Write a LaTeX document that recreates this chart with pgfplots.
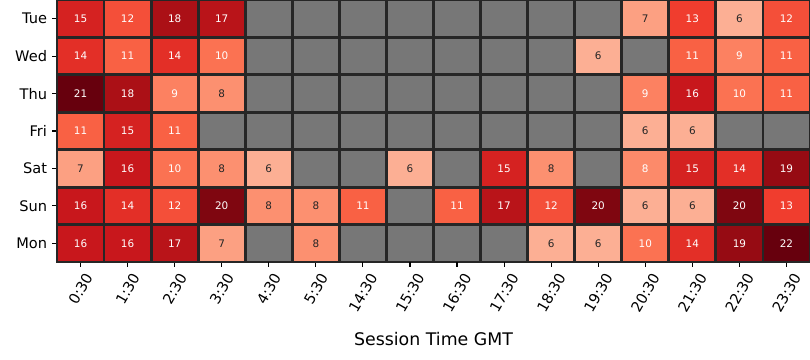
\documentclass[border=0pt]{standalone}
\usepackage{pgfplots}
\pgfplotsset{compat=1.18}
\usepackage{fontspec}
\setmainfont{DejaVu Sans}
\definecolor{misscol}{RGB}{119,119,119}
\definecolor{gridcol}{RGB}{38,38,38}
\definecolor{darktxt}{RGB}{38,38,38}
\pgfdeclareplotmark{cell}{\pgfpathrectanglecorners{\pgfpoint{-16.943pt}{-13.474pt}}{\pgfpoint{16.943pt}{13.474pt}}\pgfusepathqfillstroke}
\pgfplotstableread{
x y v
0 0 15
1 0 12
2 0 18
3 0 17
12 0 7
13 0 13
14 0 6
15 0 12
0 1 14
1 1 11
2 1 14
3 1 10
11 1 6
13 1 11
14 1 9
15 1 11
0 2 21
1 2 18
2 2 9
3 2 8
12 2 9
13 2 16
14 2 10
15 2 11
0 3 11
1 3 15
2 3 11
12 3 6
13 3 6
0 4 7
1 4 16
2 4 10
3 4 8
4 4 6
7 4 6
9 4 15
10 4 8
12 4 8.4
13 4 15
14 4 14
15 4 19
0 5 16
1 5 14
2 5 12
3 5 20
4 5 8
5 5 8
6 5 11
8 5 11
9 5 17
10 5 12
11 5 20
12 5 6
13 5 6
14 5 20
15 5 13
0 6 16
1 6 16
2 6 17
3 6 7
5 6 8
10 6 6
11 6 6
12 6 10
13 6 14
14 6 19
15 6 22
}\cells
\pgfplotstableread{
x y t
0 0 15
1 0 12
2 0 18
3 0 17
13 0 13
15 0 12
0 1 14
1 1 11
2 1 14
3 1 10
13 1 11
14 1 9
15 1 11
0 2 21
1 2 18
2 2 9
12 2 9
13 2 16
14 2 10
15 2 11
0 3 11
1 3 15
2 3 11
1 4 16
2 4 10
9 4 15
12 4 8
13 4 15
14 4 14
15 4 19
0 5 16
1 5 14
2 5 12
3 5 20
6 5 11
8 5 11
9 5 17
10 5 12
11 5 20
14 5 20
15 5 13
0 6 16
1 6 16
2 6 17
12 6 10
13 6 14
14 6 19
15 6 22
}\whitetxt
\pgfplotstableread{
x y t
12 0 7
14 0 6
11 1 6
3 2 8
12 3 6
13 3 6
0 4 7
3 4 8
4 4 6
7 4 6
10 4 8
4 5 8
5 5 8
12 5 6
13 5 6
3 6 7
5 6 8
10 6 6
11 6 6
}\darktxt
\begin{document}
\begin{tikzpicture}
\begin{axis}[
  at={(41.04pt,70.56pt)}, anchor=south west,
  scale only axis, width=542.16pt, height=188.64pt,
  xmin=-0.5, xmax=15.5, ymin=-0.5, ymax=6.5,
  y dir=reverse,
  axis background/.style={fill=misscol},
  axis on top,
  axis line style={draw=none},
  xtick={0,...,15},
  ytick={0,...,6},
  minor xtick={-0.5,0.5,...,15.5},
  minor ytick={-0.5,0.5,...,6.5},
  minor tick length=0pt,
  major tick length=3.5pt,
  tick align=outside,
  xtick pos=bottom, ytick pos=left,
  tick style={black, line width=0.8pt},
  grid=minor,
  minor grid style={draw=gridcol, line width=2pt},
  xticklabels={\rotatebox{60}{0:30},\rotatebox{60}{1:30},\rotatebox{60}{2:30},\rotatebox{60}{3:30},\rotatebox{60}{4:30},\rotatebox{60}{5:30},\rotatebox{60}{14:30},\rotatebox{60}{15:30},\rotatebox{60}{16:30},\rotatebox{60}{17:30},\rotatebox{60}{18:30},\rotatebox{60}{19:30},\rotatebox{60}{20:30},\rotatebox{60}{21:30},\rotatebox{60}{22:30},\rotatebox{60}{23:30}},
  yticklabels={Tue,Wed,Thu,Fri,Sat,Sun,Mon},
  ticklabel style={font=\fontsize{10.5}{12}\selectfont, text=black},
  xticklabel style={anchor=north, inner sep=0pt, yshift=-3.5pt},
  yticklabel style={anchor=east, inner sep=0pt, xshift=-3.5pt},
  xlabel={Session Time GMT},
  xlabel style={font=\fontsize{12.5}{14}\selectfont, black, inner sep=0pt, yshift=-13pt},
  colormap={reds}{rgb255=(255,245,240) rgb255=(254,224,210) rgb255=(252,187,161) rgb255=(252,146,114) rgb255=(251,106,74) rgb255=(239,59,44) rgb255=(203,24,29) rgb255=(165,15,21) rgb255=(103,0,13)},
  point meta min=0, point meta max=21,
]
\addplot[scatter, only marks, mark=cell, scatter/use mapped color={draw=gridcol, fill=mapped color, line width=2pt}, mark options={line width=2pt}, point meta=explicit]
  table[x=x, y=y, meta=v] {\cells};
\addplot[only marks, mark=none, nodes near coords, point meta=explicit symbolic,
  nodes near coords style={anchor=center, font=\fontsize{7.5}{9}\selectfont, text=white, inner sep=0pt}]
  table[x=x, y=y, meta=t] {\whitetxt};
\addplot[only marks, mark=none, nodes near coords, point meta=explicit symbolic,
  nodes near coords style={anchor=center, font=\fontsize{7.5}{9}\selectfont, text=darktxt, inner sep=0pt}]
  table[x=x, y=y, meta=t] {\darktxt};
\end{axis}
\pgfresetboundingbox
\path (0,0) rectangle (583.2pt,259.2pt);
\end{tikzpicture}
\end{document}
